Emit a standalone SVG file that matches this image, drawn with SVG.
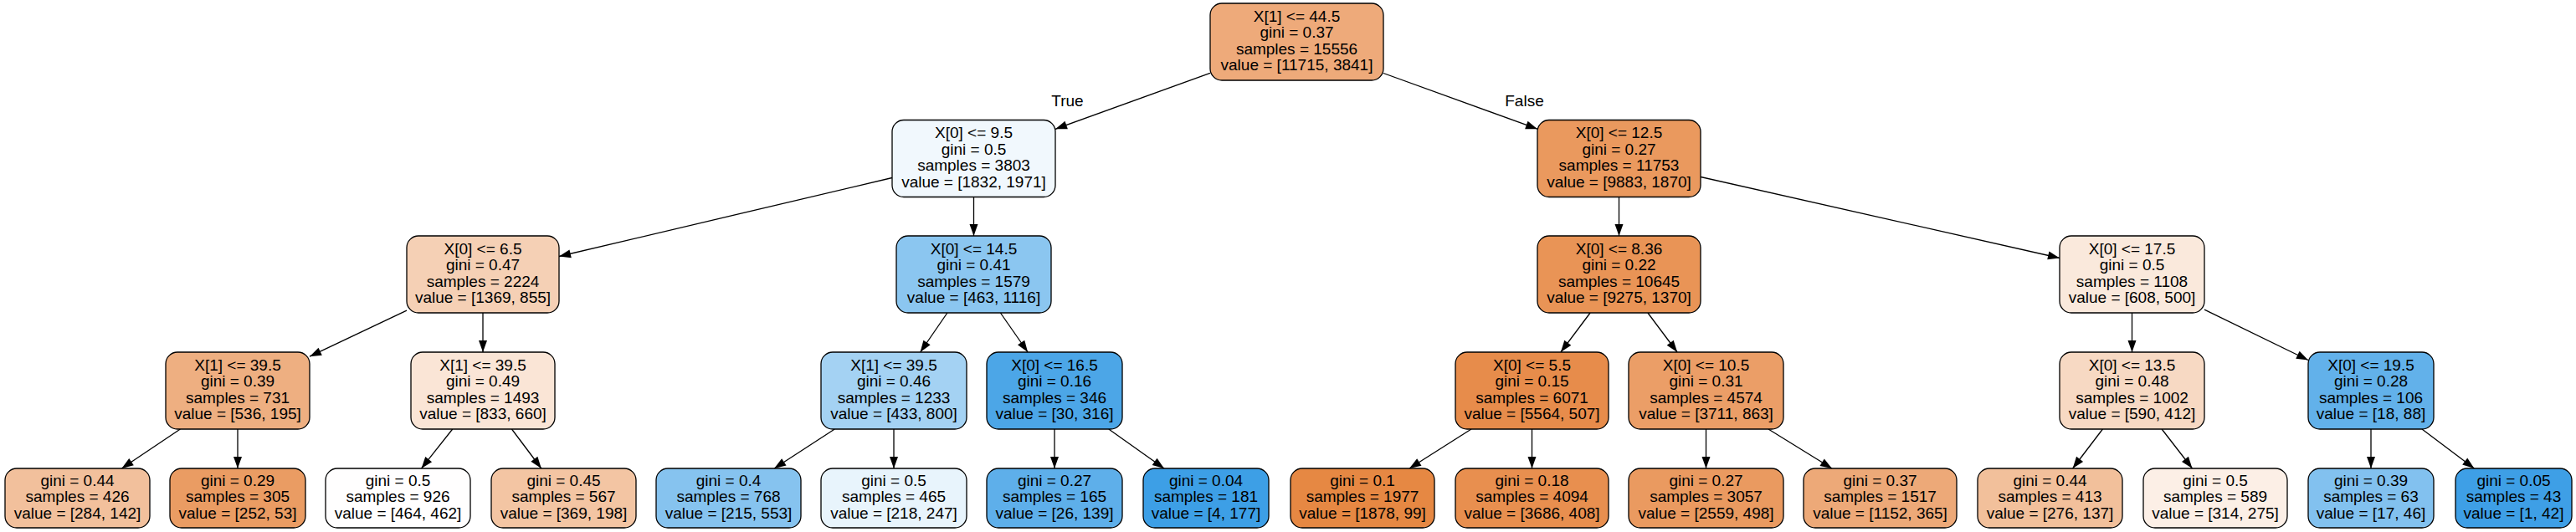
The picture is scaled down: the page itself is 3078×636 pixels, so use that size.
<svg xmlns="http://www.w3.org/2000/svg" width="3078" height="636" viewBox="0 0 3078 636">
<style>
.n rect{stroke:#000;stroke-width:1.3}
.n text{font-family:"Liberation Sans",Arial,Helvetica,sans-serif;font-size:19px;text-anchor:middle;fill:#000}
.e line{stroke:#000;stroke-width:1.3;marker-end:url(#ah)}
.lbl{font-family:"Liberation Sans",Arial,Helvetica,sans-serif;font-size:19px;text-anchor:middle;fill:#000}
</style>
<defs>
<marker id="ah" markerUnits="userSpaceOnUse" markerWidth="15" markerHeight="11" refX="14" refY="5" orient="auto" overflow="visible">
<path d="M0,0 L14,5 L0,10 Z" fill="#000"/>
</marker>
</defs>
<rect width="3078" height="636" fill="#fff"/>
<g id="connectors" class="e">
<line x1="1446" y1="87.4" x2="1261" y2="154.3"/>
<line x1="1653" y1="87.5" x2="1837" y2="154.2"/>
<line x1="1066" y1="212.5" x2="668" y2="306.5"/>
<line x1="1163.5" y1="235.5" x2="1163.5" y2="282"/>
<line x1="1934.5" y1="235.5" x2="1934.5" y2="282"/>
<line x1="2032" y1="211.5" x2="2461" y2="308.5"/>
<line x1="486" y1="371.2" x2="370" y2="426.2"/>
<line x1="577" y1="374" x2="577" y2="421"/>
<line x1="1131.9" y1="374" x2="1099.6" y2="421"/>
<line x1="1195.4" y1="374" x2="1228.1" y2="421"/>
<line x1="1900.1" y1="374" x2="1864.9" y2="421"/>
<line x1="1968.9" y1="374" x2="2004.1" y2="421"/>
<line x1="2547.5" y1="374" x2="2547.5" y2="421"/>
<line x1="2634" y1="370.1" x2="2758" y2="430.5"/>
<line x1="215.4" y1="513" x2="145.4" y2="560"/>
<line x1="284" y1="513" x2="284" y2="560"/>
<line x1="540.7" y1="513" x2="503.5" y2="560"/>
<line x1="611.5" y1="513" x2="646.8" y2="560"/>
<line x1="997.3" y1="513" x2="925.1" y2="560"/>
<line x1="1068" y1="513" x2="1068" y2="560"/>
<line x1="1260" y1="513" x2="1260" y2="560"/>
<line x1="1324.8" y1="513" x2="1391" y2="560"/>
<line x1="1758" y1="513" x2="1684" y2="560"/>
<line x1="1830.5" y1="513" x2="1830.5" y2="560"/>
<line x1="2038.5" y1="513" x2="2038.5" y2="560"/>
<line x1="2113" y1="513" x2="2189" y2="560"/>
<line x1="2512.4" y1="513" x2="2476.6" y2="560"/>
<line x1="2583.1" y1="513" x2="2619.5" y2="560"/>
<line x1="2833" y1="513" x2="2833" y2="560"/>
<line x1="2894" y1="513" x2="2956.4" y2="560"/>
<text class="lbl" x="1275.5" y="127">True</text>
<text class="lbl" x="1821.5" y="127">False</text>
</g>

<g id="node0" class="n"><rect x="1446" y="4" width="207" height="92" rx="14" fill="#eeaa7a"/>
<text x="1549.5" y="25.5">X[1] &lt;= 44.5</text><text x="1549.5" y="45">gini = 0.37</text><text x="1549.5" y="64.5">samples = 15556</text><text x="1549.5" y="84">value = [11715, 3841]</text></g>

<g id="node1" class="n"><rect x="1066" y="143.5" width="195" height="92" rx="14" fill="#f1f8fd"/>
<text x="1163.5" y="165">X[0] &lt;= 9.5</text><text x="1163.5" y="184.5">gini = 0.5</text><text x="1163.5" y="204">samples = 3803</text><text x="1163.5" y="223.5">value = [1832, 1971]</text></g>

<g id="node2" class="n"><rect x="1837" y="143.5" width="195" height="92" rx="14" fill="#ea995e"/>
<text x="1934.5" y="165">X[0] &lt;= 12.5</text><text x="1934.5" y="184.5">gini = 0.27</text><text x="1934.5" y="204">samples = 11753</text><text x="1934.5" y="223.5">value = [9883, 1870]</text></g>

<g id="node3" class="n"><rect x="486" y="282" width="182" height="92" rx="14" fill="#f5d0b5"/>
<text x="577" y="303.5">X[0] &lt;= 6.5</text><text x="577" y="323">gini = 0.47</text><text x="577" y="342.5">samples = 2224</text><text x="577" y="362">value = [1369, 855]</text></g>

<g id="node4" class="n"><rect x="1071" y="282" width="185" height="92" rx="14" fill="#8bc6f0"/>
<text x="1163.5" y="303.5">X[0] &lt;= 14.5</text><text x="1163.5" y="323">gini = 0.41</text><text x="1163.5" y="342.5">samples = 1579</text><text x="1163.5" y="362">value = [463, 1116]</text></g>

<g id="node5" class="n"><rect x="1837" y="282" width="195" height="92" rx="14" fill="#e99456"/>
<text x="1934.5" y="303.5">X[0] &lt;= 8.36</text><text x="1934.5" y="323">gini = 0.22</text><text x="1934.5" y="342.5">samples = 10645</text><text x="1934.5" y="362">value = [9275, 1370]</text></g>

<g id="node6" class="n"><rect x="2461" y="282" width="173" height="92" rx="14" fill="#fae9dc"/>
<text x="2547.5" y="303.5">X[0] &lt;= 17.5</text><text x="2547.5" y="323">gini = 0.5</text><text x="2547.5" y="342.5">samples = 1108</text><text x="2547.5" y="362">value = [608, 500]</text></g>

<g id="node7" class="n"><rect x="198" y="421" width="172" height="92" rx="14" fill="#eeaf81"/>
<text x="284" y="442.5">X[1] &lt;= 39.5</text><text x="284" y="462">gini = 0.39</text><text x="284" y="481.5">samples = 731</text><text x="284" y="501">value = [536, 195]</text></g>

<g id="node8" class="n"><rect x="491" y="421" width="172" height="92" rx="14" fill="#fae5d6"/>
<text x="577" y="442.5">X[1] &lt;= 39.5</text><text x="577" y="462">gini = 0.49</text><text x="577" y="481.5">samples = 1493</text><text x="577" y="501">value = [833, 660]</text></g>

<g id="node9" class="n"><rect x="981" y="421" width="174" height="92" rx="14" fill="#a4d2f3"/>
<text x="1068" y="442.5">X[1] &lt;= 39.5</text><text x="1068" y="462">gini = 0.46</text><text x="1068" y="481.5">samples = 1233</text><text x="1068" y="501">value = [433, 800]</text></g>

<g id="node10" class="n"><rect x="1179" y="421" width="162" height="92" rx="14" fill="#4ca6e7"/>
<text x="1260" y="442.5">X[0] &lt;= 16.5</text><text x="1260" y="462">gini = 0.16</text><text x="1260" y="481.5">samples = 346</text><text x="1260" y="501">value = [30, 316]</text></g>

<g id="node11" class="n"><rect x="1739" y="421" width="183" height="92" rx="14" fill="#e78c4b"/>
<text x="1830.5" y="442.5">X[0] &lt;= 5.5</text><text x="1830.5" y="462">gini = 0.15</text><text x="1830.5" y="481.5">samples = 6071</text><text x="1830.5" y="501">value = [5564, 507]</text></g>

<g id="node12" class="n"><rect x="1946" y="421" width="185" height="92" rx="14" fill="#eb9e67"/>
<text x="2038.5" y="442.5">X[0] &lt;= 10.5</text><text x="2038.5" y="462">gini = 0.31</text><text x="2038.5" y="481.5">samples = 4574</text><text x="2038.5" y="501">value = [3711, 863]</text></g>

<g id="node13" class="n"><rect x="2461" y="421" width="173" height="92" rx="14" fill="#f7d9c3"/>
<text x="2547.5" y="442.5">X[0] &lt;= 13.5</text><text x="2547.5" y="462">gini = 0.48</text><text x="2547.5" y="481.5">samples = 1002</text><text x="2547.5" y="501">value = [590, 412]</text></g>

<g id="node14" class="n"><rect x="2758" y="421" width="150" height="92" rx="14" fill="#62b1ea"/>
<text x="2833" y="442.5">X[0] &lt;= 19.5</text><text x="2833" y="462">gini = 0.28</text><text x="2833" y="481.5">samples = 106</text><text x="2833" y="501">value = [18, 88]</text></g>

<g id="node15" class="n"><rect x="6" y="560" width="173" height="71" rx="14" fill="#f2c09c"/>
<text x="92.5" y="580.5">gini = 0.44</text><text x="92.5" y="600">samples = 426</text><text x="92.5" y="619.5">value = [284, 142]</text></g>

<g id="node16" class="n"><rect x="203" y="560" width="162" height="71" rx="14" fill="#ea9c63"/>
<text x="284" y="580.5">gini = 0.29</text><text x="284" y="600">samples = 305</text><text x="284" y="619.5">value = [252, 53]</text></g>

<g id="node17" class="n"><rect x="389" y="560" width="173" height="71" rx="14" fill="#fffefe"/>
<text x="475.5" y="580.5">gini = 0.5</text><text x="475.5" y="600">samples = 926</text><text x="475.5" y="619.5">value = [464, 462]</text></g>

<g id="node18" class="n"><rect x="587" y="560" width="173" height="71" rx="14" fill="#f3c5a3"/>
<text x="673.5" y="580.5">gini = 0.45</text><text x="673.5" y="600">samples = 567</text><text x="673.5" y="619.5">value = [369, 198]</text></g>

<g id="node19" class="n"><rect x="784" y="560" width="173" height="71" rx="14" fill="#86c3ef"/>
<text x="870.5" y="580.5">gini = 0.4</text><text x="870.5" y="600">samples = 768</text><text x="870.5" y="619.5">value = [215, 553]</text></g>

<g id="node20" class="n"><rect x="981" y="560" width="174" height="71" rx="14" fill="#e8f4fc"/>
<text x="1068" y="580.5">gini = 0.5</text><text x="1068" y="600">samples = 465</text><text x="1068" y="619.5">value = [218, 247]</text></g>

<g id="node21" class="n"><rect x="1179" y="560" width="162" height="71" rx="14" fill="#5eafea"/>
<text x="1260" y="580.5">gini = 0.27</text><text x="1260" y="600">samples = 165</text><text x="1260" y="619.5">value = [26, 139]</text></g>

<g id="node22" class="n"><rect x="1366" y="560" width="150" height="71" rx="14" fill="#3d9fe6"/>
<text x="1441" y="580.5">gini = 0.04</text><text x="1441" y="600">samples = 181</text><text x="1441" y="619.5">value = [4, 177]</text></g>

<g id="node23" class="n"><rect x="1542" y="560" width="172" height="71" rx="14" fill="#e68843"/>
<text x="1628" y="580.5">gini = 0.1</text><text x="1628" y="600">samples = 1977</text><text x="1628" y="619.5">value = [1878, 99]</text></g>

<g id="node24" class="n"><rect x="1739" y="560" width="183" height="71" rx="14" fill="#e88f4f"/>
<text x="1830.5" y="580.5">gini = 0.18</text><text x="1830.5" y="600">samples = 4094</text><text x="1830.5" y="619.5">value = [3686, 408]</text></g>

<g id="node25" class="n"><rect x="1946" y="560" width="185" height="71" rx="14" fill="#ea9a60"/>
<text x="2038.5" y="580.5">gini = 0.27</text><text x="2038.5" y="600">samples = 3057</text><text x="2038.5" y="619.5">value = [2559, 498]</text></g>

<g id="node26" class="n"><rect x="2155" y="560" width="183" height="71" rx="14" fill="#eda978"/>
<text x="2246.5" y="580.5">gini = 0.37</text><text x="2246.5" y="600">samples = 1517</text><text x="2246.5" y="619.5">value = [1152, 365]</text></g>

<g id="node27" class="n"><rect x="2363" y="560" width="173" height="71" rx="14" fill="#f2c09b"/>
<text x="2449.5" y="580.5">gini = 0.44</text><text x="2449.5" y="600">samples = 413</text><text x="2449.5" y="619.5">value = [276, 137]</text></g>

<g id="node28" class="n"><rect x="2561" y="560" width="172" height="71" rx="14" fill="#fcefe6"/>
<text x="2647" y="580.5">gini = 0.5</text><text x="2647" y="600">samples = 589</text><text x="2647" y="619.5">value = [314, 275]</text></g>

<g id="node29" class="n"><rect x="2758" y="560" width="150" height="71" rx="14" fill="#82c1ef"/>
<text x="2833" y="580.5">gini = 0.39</text><text x="2833" y="600">samples = 63</text><text x="2833" y="619.5">value = [17, 46]</text></g>

<g id="node30" class="n"><rect x="2934" y="560" width="139" height="71" rx="14" fill="#3e9fe6"/>
<text x="3003.5" y="580.5">gini = 0.05</text><text x="3003.5" y="600">samples = 43</text><text x="3003.5" y="619.5">value = [1, 42]</text></g>
</svg>
